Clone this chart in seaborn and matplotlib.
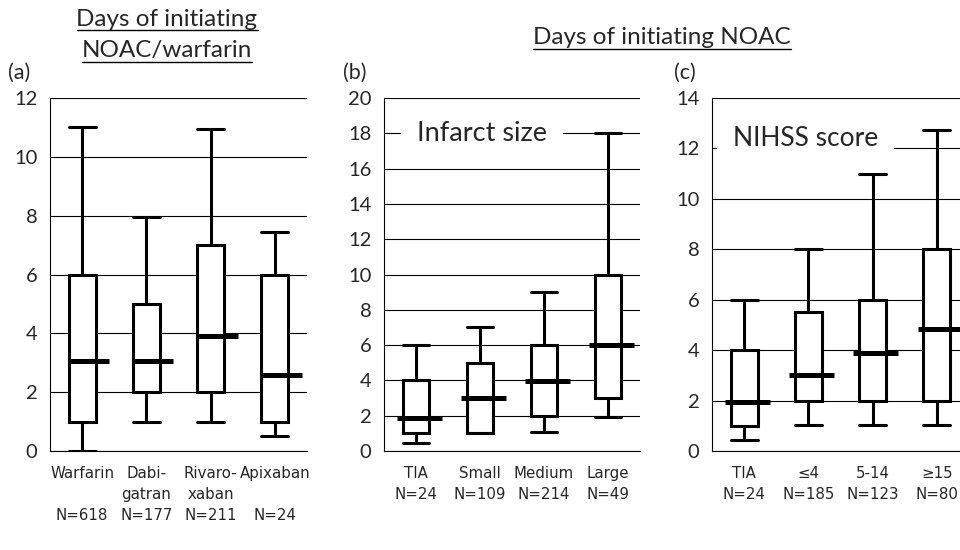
import numpy as np
import pandas as pd
import matplotlib.pyplot as plt
import seaborn as sb
from matplotlib.lines import Line2D

# box stats per group: min, q1, median, q3, max (days)
drug_groups = ["Warfarin", "Dabigatran", "Rivaroxaban", "Apixaban"]
drug_labels = ["Warfarin\n \nN=618", "Dabi-\ngatran\nN=177", "Rivaro-\nxaban\nN=211", "Apixaban\n \nN=24"]
drug_min = [0, 1, 1, 0.5]
drug_q1 = [1, 2, 2, 1]
drug_med = [3.05, 3.05, 3.9, 2.6]
drug_q3 = [6, 5, 7, 6]
drug_max = [11, 7.95, 10.95, 7.45]

size_groups = ["TIA", "Small", "Medium", "Large"]
size_labels = ["TIA\nN=24", "Small\nN=109", "Medium\nN=214", "Large\nN=49"]
size_min = [0.45, 1, 1.05, 1.95]
size_q1 = [1, 1, 2, 3]
size_med = [1.85, 3, 3.95, 6]
size_q3 = [4, 5, 6, 10]
size_max = [6, 7, 9, 18]

nihss_groups = ["TIA", "≤4", "5-14", "≥15"]
nihss_labels = ["TIA\nN=24", "≤4\nN=185", "5-14\nN=123", "≥15\nN=80"]
nihss_min = [0.45, 1.05, 1.05, 1.05]
nihss_q1 = [1, 2, 2, 2]
nihss_med = [1.93, 3, 3.9, 4.85]
nihss_q3 = [4, 5.5, 6, 8]
nihss_max = [6, 8, 11, 12.75]

sb.set_style("white")
plt.rcParams["font.family"] = ["Lato", "DejaVu Sans"]

fig = plt.figure(figsize=(9.6, 5.5), dpi=100)


def panel(rect, groups, labels, mins, q1s, meds, q3s, maxs, ymax, med_off):
    ax = fig.add_axes(rect)
    # five values per group -> seaborn quartiles/whiskers land exactly on them
    rows = []
    for g, a, b, c, d, e in zip(groups, mins, q1s, meds, q3s, maxs):
        for v in (a, b, c, d, e):
            rows.append({"group": g, "days": v})
    df = pd.DataFrame(rows)
    sb.boxplot(data=df, x="group", y="days", order=groups, ax=ax, whis=(0, 100),
               width=0.42, color="white", linecolor="black", linewidth=2.2,
               showfliers=False, medianprops={"visible": False}, capwidths=0.42)
    xs = np.arange(len(groups))
    ax.hlines(meds, xs - med_off[0], xs + med_off[1], color="black", lw=3.6, zorder=5)

    ax.set_xlim(-0.5, len(groups) - 0.5)
    ax.set_ylim(0, ymax)
    ax.set_yticks(np.arange(0, ymax + 1, 2))
    ax.yaxis.grid(True, color="black", lw=0.8)
    ax.set_axisbelow(True)
    ax.set_xlabel("")
    ax.set_ylabel("")
    ax.set_xticks(xs)
    ax.set_xticklabels(labels, fontsize=10.8, linespacing=1.5, family=["DejaVu Sans"])
    ax.set_xticks(np.arange(-0.5, len(groups)), minor=True)
    ax.tick_params(axis="x", which="major", length=0, pad=11)
    ax.tick_params(axis="x", which="minor", length=6, width=0.8, color="black", direction="out")
    ax.tick_params(axis="y", length=6, width=0.8, color="black", direction="out", labelsize=14.5, pad=3)
    for s in ["top", "right"]:
        ax.spines[s].set_visible(False)
    for s in ["left", "bottom"]:
        ax.spines[s].set_color("black")
        ax.spines[s].set_linewidth(0.8)
    return ax


ax1 = panel([0.0521, 0.18, 0.2677, 0.6418], drug_groups, drug_labels,
            drug_min, drug_q1, drug_med, drug_q3, drug_max, 12, (0.21, 0.42))
ax2 = panel([0.40, 0.18, 0.2667, 0.6418], size_groups, size_labels,
            size_min, size_q1, size_med, size_q3, size_max, 20, (0.3, 0.4))
ax3 = panel([0.7417, 0.18, 0.2677, 0.6418], nihss_groups, nihss_labels,
            nihss_min, nihss_q1, nihss_med, nihss_q3, nihss_max, 14, (0.3, 0.4))

white_box = dict(boxstyle="square,pad=0.6", facecolor="white", edgecolor="none")
ax2.text(1.03, 18, "Infarct size", fontsize=19.5, ha="center", va="center", bbox=white_box, zorder=6)
ax3.text(0.96, 12.4, "NIHSS score", fontsize=19, ha="center", va="center", bbox=white_box, zorder=6)

fig.text(8 / 960, 1 - 73 / 550, "(a)", fontsize=15.5, va="center")
fig.text(343 / 960, 1 - 73 / 550, "(b)", fontsize=15.5, va="center")
fig.text(674 / 960, 1 - 73 / 550, "(c)", fontsize=15.5, va="center")

titles = [
    fig.text(167 / 960, 1 - 19 / 550, "Days of initiating", fontsize=17.5, ha="center", va="center"),
    fig.text(167 / 960, 1 - 51 / 550, "NOAC/warfarin", fontsize=17.5, ha="center", va="center"),
    fig.text(662 / 960, 1 - 38 / 550, "Days of initiating NOAC", fontsize=17.5, ha="center", va="center"),
]

# underline the titles
fig.canvas.draw()
inv = fig.transFigure.inverted()
for t in titles:
    bb = t.get_window_extent()
    (x0, y0), (x1, _) = inv.transform([(bb.x0, bb.y0), (bb.x1, bb.y0)])
    fig.add_artist(Line2D([x0, x1], [y0, y0], color="black", lw=1.0, transform=fig.transFigure))

fig.savefig("out.png", dpi=100)
